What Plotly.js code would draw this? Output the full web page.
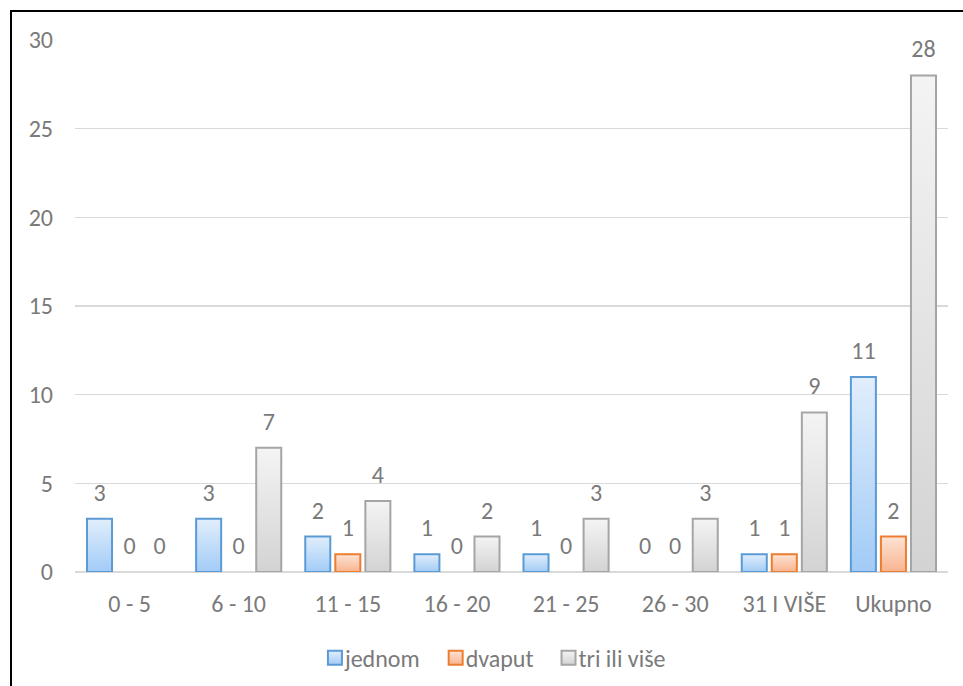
<!DOCTYPE html>
<html>
<head>
<meta charset="utf-8">
<script src="https://cdn.plot.ly/plotly-3.0.1.min.js"></script>
<style>
html,body{margin:0;padding:0;background:#fff;overflow:hidden;}
#chart{width:963px;height:686px;position:absolute;left:0;top:0;}
#frame{position:absolute;left:10px;top:10px;width:1200px;height:1200px;border:2px solid #000;box-sizing:border-box;pointer-events:none;}
</style>
</head>
<body>
<div id="chart"></div>
<div id="frame"></div>
<script>
var categories = ["0 - 5", "6 - 10", "11 - 15", "16 - 20", "21 - 25", "26 - 30", "31 I VIŠE", "Ukupno"];
var seriesNames = ["jednom", "dvaput", "tri ili više"];
var jednom = [3, 3, 2, 1, 1, 0, 1, 11];
var dvaput = [0, 0, 1, 0, 0, 0, 1, 2];
var triIliVise = [0, 7, 4, 2, 3, 3, 9, 28];
var yTicks = [0, 5, 10, 15, 20, 25, 30];

var lineColors = ["#5b9bd5", "#ed7d31", "#a5a5a5"];
var gradTop = ["#e1eefc", "#fde3d4", "#f4f4f4"];
var gradBottom = ["#a2cbf6", "#f8b48f", "#d3d3d3"];
var midColors = ["#c4ddf9", "#fbcbb1", "#e4e4e4"];
var values = [jednom, dvaput, triIliVise];
var font = "Calibri, Carlito, Lato, 'Open Sans', sans-serif";
var textGray = "#7a7a7a";
var fs = 24;

var traces = values.map(function(v, i){
  return {
    type: "bar",
    name: seriesNames[i],
    x: categories,
    y: v,
    marker: {color: midColors[i], line: {color: lineColors[i], width: v.map(function(d){ return d === 0 ? 0 : 2; })}},
    text: v.map(String),
    texttemplate: "%{y}",
    textposition: "outside",
    constraintext: "none",
    cliponaxis: false,
    textfont: {family: font, size: fs, color: textGray},
    hoverinfo: "none"
  };
});

var layout = {
  width: 963, height: 686,
  margin: {l: 75, r: 15, t: 40, b: 114, autoexpand: false},
  paper_bgcolor: "#fff", plot_bgcolor: "#fff",
  barmode: "group",
  bargap: 0.174,
  bargroupgap: 0.167,
  font: {family: font, size: fs, color: textGray},
  showlegend: true,
  legend: {orientation: "h", x: 0.473, xanchor: "center", y: -0.162, yanchor: "middle",
           font: {family: font, size: fs, color: textGray}, itemclick: false, traceorder: "normal"},
  xaxis: {type: "category", showgrid: false, zeroline: false, showline: false, automargin: false,
          ticks: "", ticklabelstandoff: 15, tickfont: {family: font, size: fs, color: textGray}},
  yaxis: {range: [0, 30], tickvals: yTicks, ticktext: yTicks.map(String), showgrid: true, automargin: false,
          gridcolor: "#d9d9d9", gridwidth: 1.5, zeroline: true, zerolinecolor: "#d9d9d9", zerolinewidth: 1.5,
          showline: false, ticks: "", ticklabelstandoff: 21, fixedrange: true,
          tickfont: {family: font, size: fs, color: textGray}}
};

Plotly.newPlot("chart", traces, layout, {staticPlot: true, displayModeBar: false}).then(function(gd){
  var svg = gd.querySelector("svg.main-svg");
  var ns = "http://www.w3.org/2000/svg";
  var defs = svg.querySelector("defs") || svg.insertBefore(document.createElementNS(ns, "defs"), svg.firstChild);
  for (var i = 0; i < 3; i++) {
    var lg = document.createElementNS(ns, "linearGradient");
    lg.setAttribute("id", "barGrad" + i);
    lg.setAttribute("x1", "0"); lg.setAttribute("y1", "0");
    lg.setAttribute("x2", "0"); lg.setAttribute("y2", "1");
    var s1 = document.createElementNS(ns, "stop");
    s1.setAttribute("offset", "0"); s1.setAttribute("stop-color", gradTop[i]);
    var s2 = document.createElementNS(ns, "stop");
    s2.setAttribute("offset", "1"); s2.setAttribute("stop-color", gradBottom[i]);
    lg.appendChild(s1); lg.appendChild(s2);
    defs.appendChild(lg);
  }
  var groups = gd.querySelectorAll(".barlayer .trace");
  groups.forEach(function(g, i){
    g.querySelectorAll("path").forEach(function(p){ p.style.fill = "url(#barGrad" + i + ")"; });
    g.querySelectorAll("text.bartext").forEach(function(t){
      var tr = t.getAttribute("transform") || "";
      t.setAttribute("transform", "translate(0,-9) " + tr);
    });
  });
  var legItems = gd.querySelectorAll(".legend .traces");
  legItems.forEach(function(g, i){
    var txt = g.querySelector("text.legendtext");
    var tx = txt ? parseFloat(txt.getAttribute("x")) || 40 : 40;
    g.querySelectorAll(".legendpoints path").forEach(function(p){
      p.setAttribute("d", "M7,7H-7V-7H7Z");
      p.setAttribute("transform", "translate(" + (tx - 10) + ",0)");
      p.style.fill = "url(#barGrad" + i + ")";
      p.style.stroke = lineColors[i];
      p.style.strokeWidth = "2px";
      p.style.opacity = "1";
      p.style.fillOpacity = "1";
    });
  });
});
</script>
</body>
</html>
